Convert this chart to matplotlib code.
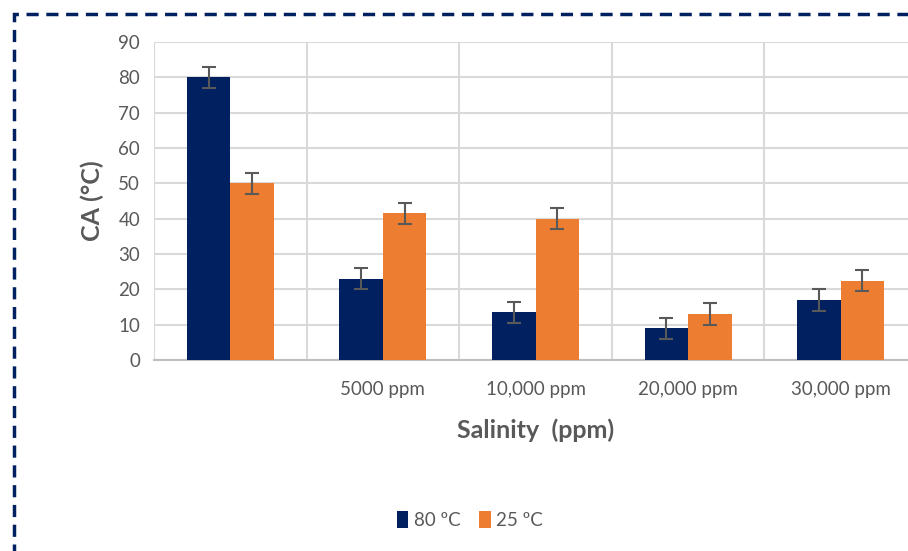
import matplotlib.pyplot as plt
import numpy as np
from matplotlib.patches import Rectangle

categories = ['', '5000 ppm', '10,000 ppm', '20,000 ppm', '30,000 ppm']
ca_80 = [80, 23, 13.5, 9, 17]
ca_25 = [50, 41.5, 40, 13, 22.5]
err_80 = [3, 3, 3, 3, 3]
err_25 = [3, 3, 3, 3, 3]
series_names = ['80 ºC', '25 ºC']

navy = '#002060'
orange = '#ED7D31'
grid_col = '#D9D9D9'
text_col = '#595959'

plt.rcParams['font.family'] = ['Lato', 'DejaVu Sans']

fig = plt.figure(figsize=(9.08, 5.51), dpi=100)
W, H = 908, 551
# axes extends past the right edge of the figure like the cropped original
ax = fig.add_axes([154 / W, 1 - 360 / H, (917 - 154) / W, (360 - 42) / H])

x = np.arange(len(categories))
bw = 0.285
ax.bar(x - bw / 2, ca_80, bw, color=navy, label=series_names[0], zorder=3)
ax.bar(x + bw / 2, ca_25, bw, color=orange, label=series_names[1], zorder=3)
ax.errorbar(x - bw / 2, ca_80, yerr=err_80, fmt='none', ecolor=text_col,
            elinewidth=1.5, capsize=5, capthick=1.5, zorder=4)
ax.errorbar(x + bw / 2, ca_25, yerr=err_25, fmt='none', ecolor=text_col,
            elinewidth=1.5, capsize=5, capthick=1.5, zorder=4)

ax.set_xlim(-0.5, len(categories) - 0.5)
ax.set_ylim(0, 90)
ax.set_yticks(np.arange(0, 91, 10))
ax.set_xticks(x)
ax.set_xticklabels(categories)
ax.set_xticks(np.arange(-0.5, len(categories), 1), minor=True)

ax.grid(axis='y', color=grid_col, linewidth=1.5, zorder=0)
ax.grid(axis='x', which='minor', color=grid_col, linewidth=1.5, zorder=0)
ax.grid(axis='x', which='major', visible=False)

for s in ['top', 'right', 'left']:
    ax.spines[s].set_visible(False)
ax.spines['bottom'].set_color('#BFBFBF')
ax.spines['bottom'].set_linewidth(1.5)

ax.tick_params(axis='both', which='both', length=0, colors=text_col, labelsize=13.5)
ax.tick_params(axis='x', pad=15)
ax.tick_params(axis='y', pad=10)

ax.set_ylabel('CA (°C)', fontsize=18, fontweight='bold', color=text_col, labelpad=10)
ax.set_xlabel('Salinity  (ppm)', fontsize=18, fontweight='bold', color=text_col, labelpad=15)

leg = fig.legend(loc='center', bbox_to_anchor=(470 / W, 1 - 520 / H), ncol=2,
                 frameon=False, fontsize=13.5, handlelength=0.6, handleheight=1.0,
                 handletextpad=0.3, columnspacing=1.0)
for t in leg.get_texts():
    t.set_color(text_col)

# dashed border
border = Rectangle((14 / W, -0.1), 1.2, 1 - 14 / H + 0.1, transform=fig.transFigure,
                   fill=False, edgecolor=navy, linewidth=2.5, linestyle=(0, (3.5, 2.2)))
fig.patches.append(border)

fig.savefig('out.png', dpi=100)
